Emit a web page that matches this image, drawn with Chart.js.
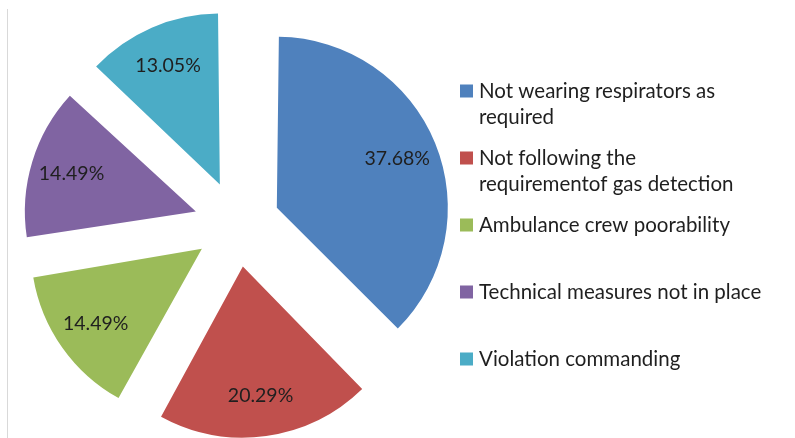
<!DOCTYPE html>
<html><head><meta charset="utf-8">
<script src="https://cdn.jsdelivr.net/npm/chart.js@4"></script>
<style>html,body{margin:0;padding:0;background:#fff;overflow:hidden}</style>
</head><body>
<canvas id="c" width="795" height="438"></canvas>
<script>
const categories = [
  ["Not wearing respirators as", "required"],
  ["Not following the", "requirementof gas detection"],
  ["Ambulance crew poorability"],
  ["Technical measures not in place"],
  ["Violation commanding"]
];
const percentages = [37.68, 20.29, 14.49, 14.49, 13.05];
const colors = ["#4F81BD", "#C0504D", "#9BBB59", "#8064A2", "#4BACC6"];

const LABEL_FONT = "19.5px Lato";
const LEGEND_FONT = "20.5px Lato";
const TEXT = "#1f1f1f";
const SHIFT = 43;   // explode distance in px
const RADIUS = 171; // pie radius in px

// Chart.js enlarges small exploded slices (radiusOffset); undo that so all slices share one radius
const equalRadiusPlugin = {
  id: 'equalRadius',
  beforeDatasetsDraw(chart) {
    chart.getDatasetMeta(0).data.forEach((arc) => {
      const fix = 1 - Math.sin(Math.min(Math.PI, arc.circumference));
      arc.outerRadius = RADIUS - (arc.options.offset / 4) * fix;
    });
  }
};

const labelsPlugin = {
  id: 'pctLabels',
  afterDatasetsDraw(chart) {
    const ctx = chart.ctx;
    const meta = chart.getDatasetMeta(0);
    ctx.save();
    ctx.font = LABEL_FONT;
    ctx.fillStyle = TEXT;
    ctx.textAlign = 'center';
    ctx.textBaseline = 'middle';
    meta.data.forEach((arc, i) => {
      const p = arc.getProps(['x', 'y', 'startAngle', 'endAngle'], true);
      const mid = (p.startAngle + p.endAngle) / 2;
      const d = arc.options.offset / 4;
      const r = d + RADIUS * 0.76;
      ctx.fillText(percentages[i].toFixed(2) + '%', p.x + Math.cos(mid) * r, p.y + Math.sin(mid) * r);
    });
    ctx.restore();
  }
};

const legendPlugin = {
  id: 'sideLegend',
  afterDraw(chart) {
    const ctx = chart.ctx;
    ctx.save();
    ctx.strokeStyle = '#d9d9d9';
    ctx.lineWidth = 1;
    ctx.beginPath();
    ctx.moveTo(7.5, 9);
    ctx.lineTo(7.5, 438);
    ctx.stroke();
    ctx.font = LEGEND_FONT;
    ctx.textAlign = 'left';
    ctx.textBaseline = 'middle';
    const x0 = 460, y0 = 91, step = 67, lh = 26;
    categories.forEach((lines, i) => {
      const y = y0 + i * step;
      ctx.fillStyle = colors[i];
      ctx.fillRect(x0, y - 6.5, 13, 13);
      ctx.fillStyle = TEXT;
      lines.forEach((ln, j) => ctx.fillText(ln, x0 + 19, y + j * lh));
    });
    ctx.restore();
  }
};

new Chart(document.getElementById('c'), {
  type: 'pie',
  data: {
    labels: categories.map(l => l.join(' ')),
    datasets: [{
      data: percentages,
      backgroundColor: colors,
      borderWidth: 0,
      offset: 4 * SHIFT
    }]
  },
  options: {
    responsive: false,
    animation: false,
    devicePixelRatio: 1,
    radius: RADIUS,
    layout: { padding: { left: 0, right: 321, top: 10, bottom: 0 } },
    plugins: { legend: { display: false }, tooltip: { enabled: false } }
  },
  plugins: [equalRadiusPlugin, labelsPlugin, legendPlugin]
});
</script>
</body></html>
